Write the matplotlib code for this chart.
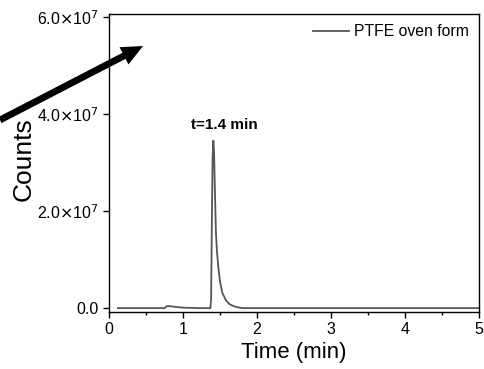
import matplotlib
matplotlib.use("Agg")
import matplotlib.pyplot as plt
from matplotlib.ticker import FuncFormatter, MultipleLocator

plt.rcParams["font.family"] = ["Liberation Sans", "DejaVu Sans"]

# chromatogram
time_min = [0.12, 0.50, 0.75, 0.78, 0.82, 0.90, 1.00, 1.20, 1.37, 1.38, 1.39,
            1.40, 1.41, 1.42, 1.43, 1.445, 1.46, 1.477, 1.50, 1.53, 1.58,
            1.63, 1.70, 1.80, 2.50, 5.00]
counts = [0.0, 0.0, 0.0, 0.04e7, 0.04e7, 0.025e7, 0.01e7, 0.0, 0.0, 0.2e7, 1.8e7,
          3.1e7, 3.45e7, 3.2e7, 2.5e7, 1.55e7, 1.15e7, 0.85e7, 0.55e7, 0.32e7,
          0.16e7, 0.08e7, 0.03e7, 0.0, 0.0, 0.0]
series_label = "PTFE oven form"
peak_label = "t=1.4 min"
y_ticks = [0, 2e7, 4e7, 6e7]


def sci_fmt(v, _pos):
    if v == 0:
        return "0.0"
    exp = len(str(int(v))) - 1
    return rf"{v / 10**exp:.1f}$\times$10$^{{{exp}}}$"


fig = plt.figure(figsize=(4.84, 3.69), dpi=100)
ax = fig.add_axes([109 / 484, 1 - 312 / 369, (479 - 109) / 484, (312 - 14) / 369])
ax.plot(time_min, counts, color="#555555", lw=1.3, label=series_label)
ax.set_xlim(0, 5)
ax.set_ylim(-0.08e7, 6.06e7)
ax.xaxis.set_major_locator(MultipleLocator(1))
ax.xaxis.set_minor_locator(MultipleLocator(0.5))
ax.set_yticks(y_ticks)
ax.yaxis.set_major_formatter(FuncFormatter(sci_fmt))
ax.tick_params(direction="out", labelsize=11.5, length=4, width=1)
ax.tick_params(which="minor", length=2.5, width=1)
for sp in ax.spines.values():
    sp.set_linewidth(1.0)

ax.set_xlabel("Time (min)", fontsize=16, labelpad=3)
ax.set_ylabel("Counts", fontsize=19)
ax.yaxis.set_label_coords(-0.197, 0.513)
ax.text(1.56, 3.63e7, peak_label, ha="center", va="bottom", fontsize=11,
        fontweight="bold")
ax.legend(loc="upper right", frameon=False, fontsize=11.3, handlelength=2.3,
          borderaxespad=0.25, handletextpad=0.3)

ax.annotate("", xy=(143 / 484, 1 - 46 / 369), xycoords="figure fraction",
            xytext=(0.0, 1 - 120 / 369), textcoords="figure fraction",
            arrowprops=dict(arrowstyle="simple,head_length=1.1,head_width=1.0,tail_width=0.35",
                            lw=0, color="black", shrinkA=0, shrinkB=0,
                            mutation_scale=14),
            annotation_clip=False)

fig.savefig("out.png", dpi=100)
